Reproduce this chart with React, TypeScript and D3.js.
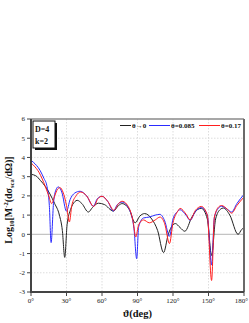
import * as d3 from 'd3'

// angles in degrees, log10 cross section values
const blackAngles = [0, 4, 8, 12, 16, 20, 24, 26.5, 28.5, 30.5, 33.5, 37, 39, 43, 48.5, 52, 57, 62, 69.6, 74, 77, 83, 88, 92, 96, 102, 107, 112, 116, 120, 122, 126, 130, 136, 141, 144, 149, 152.6, 156, 160, 162.5, 168, 175, 178, 180]
const blackValues = [3.12, 3.05, 2.8, 2.5, 2.1, 1.6, 1.0, 0.2, -1.2, 0.5, 1.3, 1.7, 1.77, 1.6, 1.16, 1.4, 1.62, 1.55, 1.21, 1.5, 1.6, 1.3, 0.6, 0.95, 1.08, 0.8, 0.2, -0.95, 0.0, 0.5, 0.56, 0.35, 0.16, 0.9, 1.3, 1.35, 0.8, -1.1, 0.8, 1.3, 1.37, 1.0, 0.0, 0.25, 0.35]

const blueAngles = [0, 2, 7.6, 11, 13.3, 15.5, 17, 19, 21, 23, 26, 30, 33, 37, 41.5, 47, 52.7, 56, 60, 65, 69.6, 73, 77, 83, 87, 89.3, 91, 95, 100, 105, 109, 113, 117, 120, 124, 126, 131, 134.4, 139, 144, 149, 152.6, 155, 159, 161, 166, 169.5, 174, 180]
const blueValues = [3.85, 3.75, 3.33, 2.9, 2.55, 1.5, -0.43, 1.6, 2.3, 2.47, 2.2, 1.2, 1.8, 2.15, 2.24, 2.0, 1.46, 1.85, 1.98, 1.7, 1.21, 1.55, 1.68, 1.3, 0.3, -1.27, 0.4, 0.85, 0.9, 1.0, 1.04, 0.7, -0.1, 0.8, 1.2, 1.28, 1.0, 0.73, 1.2, 1.39, 1.0, -1.6, 0.9, 1.4, 1.46, 1.3, 1.16, 1.6, 2.08]

const redAngles = [0, 2, 7, 12, 15, 17.5, 20, 22.5, 24.5, 27, 30, 32.4, 34.5, 38, 42, 47, 53, 56.5, 60, 65, 70, 74, 77, 83, 86.5, 88.5, 91, 95, 100, 105, 109, 113, 117, 120, 124, 126, 131, 134.5, 139, 144, 149, 152.6, 155, 159, 161, 166, 169.5, 174, 180]
const redValues = [3.72, 3.6, 3.2, 2.5, 2.0, 1.6, 2.0, 2.35, 2.43, 2.2, 1.5, 0.64, 1.5, 2.0, 2.2, 2.0, 1.45, 1.85, 1.98, 1.7, 1.25, 1.6, 1.72, 1.35, 0.6, -0.14, 0.5, 0.75, 0.6, 0.75, 0.9, 0.55, -0.48, 0.6, 1.2, 1.35, 1.05, 0.75, 1.25, 1.45, 1.0, -2.4, 0.9, 1.45, 1.5, 1.3, 1.1, 1.5, 1.94]

const seriesNames = ['θ→0', 'θ=0.085', 'θ=0.17']
const seriesColors = ['#222222', '#2b2bff', '#ff1f1f']

const xTicks = [0, 30, 60, 90, 120, 150, 180]
const yTicks = [-3, -2, -1, 0, 1, 2, 3, 4, 5, 6]

const FONT = '"Liberation Serif", "Times New Roman", serif'

export default function App() {
  const W = 249
  const H = 323
  const plot = { left: 31, right: 244, top: 119, bottom: 292 }

  const x = d3.scaleLinear().domain([0, 180]).range([plot.left, plot.right])
  const y = d3.scaleLinear().domain([-3, 6]).range([plot.bottom, plot.top])

  const line = d3.line<[number, number]>()
    .x(d => x(d[0]))
    .y(d => y(d[1]))
    .curve(d3.curveMonotoneX)

  const series = [
    { angles: blackAngles, values: blackValues },
    { angles: blueAngles, values: blueValues },
    { angles: redAngles, values: redValues },
  ]

  // legend layout (line start, line end, text start)
  const legendY = 125.5
  const legendItems = [
    { x0: 120, x1: 131, tx: 132 },
    { x0: 149, x1: 170, tx: 171 },
    { x0: 199, x1: 220, tx: 221 },
  ]

  return (
    <svg width={W} height={H} style={{ position: 'absolute', left: 0, top: 0, background: '#fff' }}>
      <defs>
        <clipPath id="plotClip">
          <rect x={plot.left} y={plot.top} width={plot.right - plot.left} height={plot.bottom - plot.top} />
        </clipPath>
      </defs>

      {/* grid */}
      {yTicks.filter(t => t !== 0 && t !== -3 && t !== 6).map(t => (
        <line key={'gy' + t} x1={plot.left} x2={plot.right} y1={y(t)} y2={y(t)}
          stroke="#d4d4d4" strokeWidth={0.8} strokeDasharray="1.5,1.5" />
      ))}
      {xTicks.filter(t => t !== 0 && t !== 180).map(t => (
        <line key={'gx' + t} x1={x(t)} x2={x(t)} y1={plot.top} y2={plot.bottom}
          stroke="#d4d4d4" strokeWidth={0.8} strokeDasharray="1.5,1.5" />
      ))}
      <line x1={plot.left} x2={plot.right} y1={y(0)} y2={y(0)} stroke="#c4c4c4" strokeWidth={1.2} />

      {/* curves */}
      <g clipPath="url(#plotClip)">
        {series.map((s, i) => (
          <path key={i}
            d={line(s.angles.map((a, j) => [a, s.values[j]] as [number, number])) || ''}
            fill="none" stroke={seriesColors[i]} strokeWidth={1} />
        ))}
      </g>

      {/* frame */}
      <line x1={plot.left} x2={plot.right} y1={plot.top} y2={plot.top} stroke="#8a8a8a" strokeWidth={1.5} />
      <line x1={plot.right} x2={plot.right} y1={plot.top} y2={plot.bottom} stroke="#6a6a6a" strokeWidth={2} />
      <line x1={plot.left} x2={plot.left} y1={plot.top} y2={plot.bottom + 1} stroke="#444" strokeWidth={2} />
      <line x1={plot.left - 1} x2={plot.right} y1={plot.bottom} y2={plot.bottom} stroke="#444" strokeWidth={2} />

      {/* y ticks */}
      {yTicks.map(t => (
        <g key={'yt' + t}>
          <line x1={plot.left - 4} x2={plot.left} y1={y(t)} y2={y(t)} stroke="#444" strokeWidth={1} />
          <text x={plot.left - 6} y={y(t)} dy="0.35em" textAnchor="end"
            fontFamily={FONT} fontSize={7} fill="#222">{t}</text>
        </g>
      ))}

      {/* x ticks */}
      {xTicks.map(t => (
        <g key={'xt' + t}>
          <line x1={x(t)} x2={x(t)} y1={plot.bottom} y2={plot.bottom + 4} stroke="#444" strokeWidth={1} />
          <text x={t === 180 ? W - 1 : x(t)} y={plot.bottom + 11} textAnchor={t === 180 ? 'end' : 'middle'}
            fontFamily={FONT} fontSize={7} fill="#222">{t + '°'}</text>
        </g>
      ))}

      {/* legend */}
      {legendItems.map((l, i) => (
        <g key={'lg' + i}>
          <line x1={l.x0} x2={l.x1} y1={legendY} y2={legendY} stroke={seriesColors[i]} strokeWidth={1} />
          <text x={l.tx} y={legendY} dy="0.35em" fontFamily={FONT} fontSize={7}
            fontWeight="bold" fill="#111">{seriesNames[i]}</text>
        </g>
      ))}

      {/* D / k box */}
      <rect x={35} y={123} width={22} height={27} fill="#111" />
      <rect x={33} y={121} width={22} height={27} fill="#fff" stroke="#111" strokeWidth={1} />
      <text x={35} y={132} fontFamily={FONT} fontSize={8} fontWeight="bold" fill="#111">D=4</text>
      <text x={35} y={144} fontFamily={FONT} fontSize={8} fontWeight="bold" fill="#111">k=2</text>

      {/* axis titles */}
      <text transform={`translate(12, 200) rotate(-90)`} textAnchor="middle"
        fontFamily={FONT} fontSize={10} fontWeight="bold" fill="#111">
        Log<tspan fontSize={6.5} dy="2">10</tspan><tspan dy="-2">[M</tspan><tspan fontSize={6.5} dy="-4">-2</tspan><tspan dy="4">(dσ</tspan><tspan fontSize={6.5} dy="2">sca</tspan><tspan dy="-2">/dΩ)]</tspan>
      </text>
      <text x={(plot.left + plot.right) / 2} y={317} textAnchor="middle"
        fontFamily={FONT} fontSize={10.5} fontWeight="bold" fill="#111">ϑ(deg)</text>
    </svg>
  )
}
